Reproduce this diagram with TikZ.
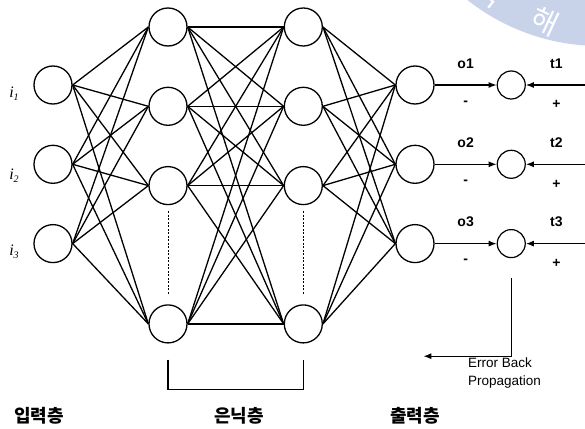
\documentclass[tikz,border=0pt]{standalone}
\usepackage{fontspec}
\setsansfont{Liberation Sans}
\newfontfamily\timesfont{Liberation Serif}
\newfontfamily\krfont{Noto Sans CJK KR}
\usetikzlibrary{positioning,arrows.meta}
\definecolor{sealblue}{RGB}{200,211,234}
\newcommand{\inname}[1]{\timesfont\itshape i\raisebox{-3pt}{\fontsize{10}{10}\selectfont #1}}
\tikzset{
	neuron/.style={circle, draw, line width=1.3pt, minimum size=38pt, inner sep=0pt},
	errnode/.style={circle, draw, line width=1.2pt, minimum size=28pt, inner sep=0pt},
	synapse/.style={line width=1.3pt},
	sig/.style={-{Latex[length=8pt,width=6pt]}, line width=1.3pt},
	dotline/.style={line width=0.9pt, dash pattern=on 2pt off 1.5pt},
	vallabel/.style={inner sep=0pt, font=\sffamily\bfseries\fontsize{14}{16}\selectfont},
	layerlabel/.style={font=\krfont\bfseries\fontsize{18}{20}\selectfont},
	inlabel/.style={font=\fontsize{16}{18}\selectfont},
	sealtext/.style={white, inner sep=0pt, font=\krfont\fontsize{29}{29}\selectfont},
}

\begin{document}
\begin{tikzpicture}[x=1pt, y=-1pt, node distance=40pt]
	% seal in the corner
	\begin{scope}
		\clip (0,0) rectangle (585,428);
		\fill[sealblue] (600,-168) circle (214pt);
		\node[sealtext, rotate=-25] (sealA) at (545,21) {해};
		\node[sealtext, rotate=-38] (sealB) at (490,-6) {국};
	\end{scope}
	\useasboundingbox (0,0) rectangle (585,428);

	\node[neuron] (i1) at (53,85) {};
	\node[neuron, below=of i1] (i2) {};
	\node[neuron, below=of i2] (i3) {};
	\node[neuron] (h1) at (168,27) {};
	\node[neuron, below=of h1] (h2) {};
	\node[neuron, below=of h2] (h3) {};
	\node[neuron, below=99pt of h3] (h4) {};
	\node[neuron, right=96pt of h1] (g1) {};
	\node[neuron, below=of g1] (g2) {};
	\node[neuron, below=of g2] (g3) {};
	\node[neuron, below=99pt of g3] (g4) {};
	\node[neuron] (o1) at (415,85) {};
	\node[neuron, below=of o1] (o2) {};
	\node[neuron, below=of o2] (o3) {};
	\node[errnode, right=62pt of o1] (e1) {};
	\node[errnode, right=62pt of o2] (e2) {};
	\node[errnode, right=62pt of o3] (e3) {};
	\coordinate[right=61pt of e1] (r1);
	\coordinate[right=61pt of e2] (r2);
	\coordinate[right=61pt of e3] (r3);

	\node[inlabel] (l1) at (14,94) {\inname{1}};
	\node[inlabel] (l2) at (14,176) {\inname{2}};
	\node[inlabel] (l3) at (14,252) {\inname{3}};

	\foreach \a in {1,2,3}
		\foreach \b in {1,...,4}
			\draw[synapse] (i\a.east) -- (h\b.west);
	\foreach \a in {1,...,4}
		\foreach \b in {1,...,4}
			\draw[synapse] (h\a.east) -- (g\b.west);
	\foreach \a in {1,...,4}
		\foreach \b in {1,2,3}
			\draw[synapse] (g\a.east) -- (o\b.west);

	\draw[dotline] ([yshift=-6pt]h3.south) -- ([yshift=9pt]h4.north);
	\draw[dotline] ([yshift=-6pt]g3.south) -- ([yshift=9pt]g4.north);

	\foreach \k in {1,2,3} {
		\draw[sig] (o\k) -- node[vallabel, above=16pt] {o\k} node[vallabel, below=15pt] {-} (e\k);
		\draw[sig] (r\k) -- node[vallabel, above=16pt] {t\k} node[vallabel, below=15pt] {+} (e\k);
	}

	% error back propagation
	\coordinate[below=20pt of e3] (eb1);
	\coordinate[below=78pt of eb1] (eb2);
	\coordinate[left=88pt of eb2] (eb3);
	\draw[sig] (eb1) -- (eb2) -- (eb3);
	\node[anchor=north west, align=left, inner sep=0pt, font=\sffamily\fontsize{13.5}{18}\selectfont] (ebp) at (468,358) {Error Back\\Propagation};

	\coordinate (bl) at ([yshift=-16pt]h4.south);
	\coordinate (br) at ([yshift=-16pt]g4.south);
	\draw[synapse] (bl) -- ++(0,30) -| (br);

	\node[layerlabel] (inl) at (39,416) {입력층};
	\node[layerlabel] (hidl) at (239,416) {은닉층};
	\node[layerlabel] (outl) at (415,416) {출력층};
\end{tikzpicture}
\end{document}
